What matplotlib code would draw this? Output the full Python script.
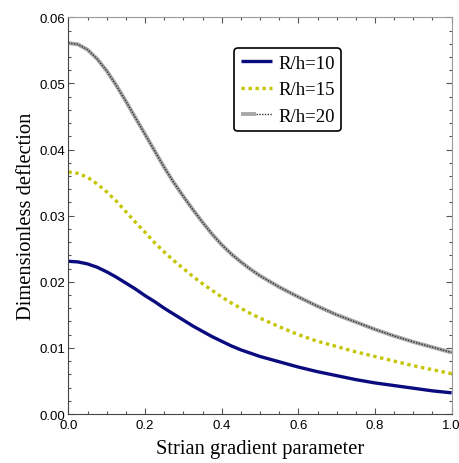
import matplotlib
matplotlib.use('Agg')
import matplotlib.pyplot as plt
from matplotlib.ticker import MultipleLocator
from matplotlib.legend_handler import HandlerTuple

# strain gradient parameter
xs = [0.0, 0.025, 0.05, 0.075, 0.1, 0.125, 0.15, 0.175, 0.2, 0.225,
      0.25, 0.275, 0.3, 0.325, 0.35, 0.375, 0.4, 0.425, 0.45, 0.475,
      0.5, 0.55, 0.6, 0.65, 0.7, 0.75, 0.8, 0.85, 0.9, 0.95, 1.0]

# dimensionless deflection
rh10 = [0.0231, 0.0230, 0.0227, 0.0222, 0.0215, 0.0207, 0.0198, 0.0189,
        0.0179, 0.0170, 0.0160, 0.0151, 0.0142, 0.0133, 0.0125, 0.0117,
        0.0110, 0.0103, 0.0097, 0.0092, 0.0087, 0.0079, 0.0071, 0.0064,
        0.0058, 0.0052, 0.0047, 0.0043, 0.0039, 0.0035, 0.0032]
rh15 = [0.0366, 0.0364, 0.0358, 0.0348, 0.0336, 0.0322, 0.0306, 0.0290,
        0.0275, 0.0259, 0.0245, 0.0232, 0.0220, 0.0208, 0.0197, 0.0187,
        0.0177, 0.0168, 0.0160, 0.0152, 0.0145, 0.0132, 0.0120, 0.0110,
        0.0102, 0.0094, 0.0087, 0.0080, 0.0073, 0.0067, 0.0061]
rh20 = [0.0561, 0.0559, 0.0551, 0.0537, 0.0519, 0.0497, 0.0473, 0.0448,
        0.0423, 0.0398, 0.0373, 0.0350, 0.0329, 0.0309, 0.0290, 0.0272,
        0.0256, 0.0242, 0.0230, 0.0219, 0.0209, 0.0192, 0.0177, 0.0163,
        0.0150, 0.0139, 0.0128, 0.0118, 0.0109, 0.0101, 0.0093]

labels = ['R/h=10', 'R/h=15', 'R/h=20']

serif = 'Liberation Serif'
sans = 'Liberation Sans'

fig = plt.figure(figsize=(4.59, 4.64), dpi=100)
ax = fig.add_axes([0.149, 0.1056, 0.835, 0.855])

l1, = ax.plot(xs, rh10, color='#0b0b80', lw=2.4, solid_capstyle='butt',
              solid_joinstyle='round')
l2, = ax.plot(xs, rh15, color='#c4c400', lw=2.4, linestyle=(0, (1, 1.1)))
l3a, = ax.plot(xs, rh20, color='#a8a8a8', lw=2.8, solid_capstyle='butt',
               solid_joinstyle='round')
l3b, = ax.plot(xs, rh20, color='#333333', lw=1.0, linestyle=(0, (1, 1)))

ax.set_xlim(0, 1)
ax.set_ylim(0, 0.06)
ax.xaxis.set_major_locator(MultipleLocator(0.2))
ax.xaxis.set_minor_locator(MultipleLocator(0.05))
ax.yaxis.set_major_locator(MultipleLocator(0.01))
ax.yaxis.set_minor_locator(MultipleLocator(0.002))
ax.xaxis.set_major_formatter(plt.FuncFormatter(lambda v, p: f'{v:.1f}'))
ax.yaxis.set_major_formatter(plt.FuncFormatter(lambda v, p: f'{v:.2f}'))

ax.tick_params(which='both', direction='in', top=True, right=True,
               color='#555555', width=0.8)
ax.tick_params(which='major', length=4.5, labelsize=9.5)
ax.tick_params(axis='y', which='major', pad=2)
ax.tick_params(axis='x', which='major', pad=3.5)
ax.tick_params(which='minor', length=2.5)
for lab in ax.get_xticklabels() + ax.get_yticklabels():
    lab.set_family(sans)
for side in ['left', 'bottom']:
    ax.spines[side].set_color('#444444')
for side in ['top', 'right']:
    ax.spines[side].set_color('#999999')

ax.set_xlabel('Strian gradient parameter', family=serif, fontsize=14.8,
              labelpad=6)
ax.set_ylabel('Dimensionless deflection', family=serif, fontsize=14.8,
              labelpad=3)

leg = ax.legend([l1, l2, (l3a, l3b)], labels,
                handler_map={tuple: HandlerTuple(ndivide=None, pad=0)},
                loc='upper left', bbox_to_anchor=(0.432, 0.922),
                prop={'family': serif, 'size': 13.5},
                frameon=True, fancybox=True, framealpha=1,
                handlelength=1.7, handletextpad=0.3, labelspacing=0.5,
                borderpad=0.35, borderaxespad=0)
leg.get_frame().set_edgecolor('black')
leg.get_frame().set_linewidth(1.2)

fig.savefig('out.png', dpi=100)
